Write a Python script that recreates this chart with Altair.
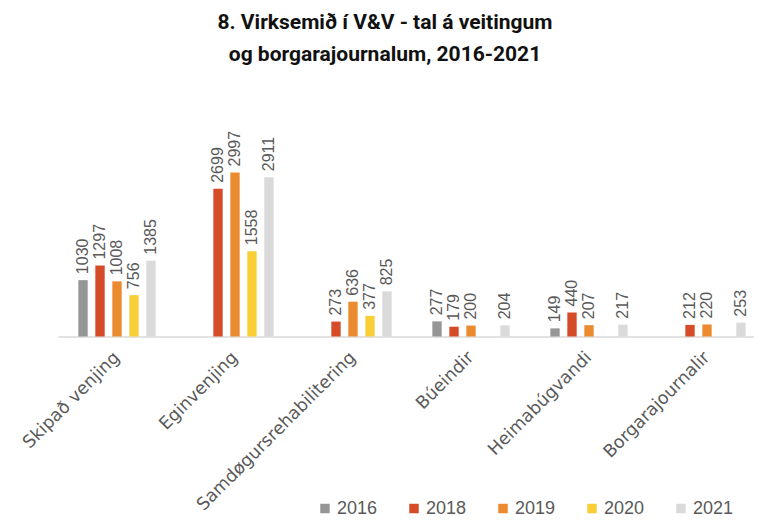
import altair as alt
import pandas as pd

categories = ["Skipað venjing", "Eginvenjing", "Samdøgursrehabilitering",
              "Búeindir", "Heimabúgvandi", "Borgarajournalir"]
years = ["2016", "2018", "2019", "2020", "2021"]
v2016 = [1030, None, None, 277, 149, None]
v2018 = [1297, 2699, 273, 179, 440, 212]
v2019 = [1008, 2997, 636, 200, 207, 220]
v2020 = [756, 1558, 377, None, None, None]
v2021 = [1385, 2911, 825, 204, 217, 253]
colors = ["#969696", "#D54B27", "#EC8A30", "#F9CF37", "#DADADA"]

series = dict(zip(years, [v2016, v2018, v2019, v2020, v2021]))
rows = []
for y in years:
    for c, v in zip(categories, series[y]):
        if v is not None:
            rows.append({"category": c, "year": y, "value": v})
df = pd.DataFrame(rows)

base = alt.Chart(df).encode(
    x=alt.X("category:N", sort=categories,
            scale=alt.Scale(domain=categories, range=[0, 708],
                            paddingInner=0.28, paddingOuter=0.14),
            axis=alt.Axis(title=None, labelAngle=-45, labelAlign="right",
                          labelBaseline="middle", labelPadding=18,
                          labelLimit=400,
                          ticks=False, domainColor="#D9D9D9", domainWidth=1.5,
                          labelFont="DejaVu Sans", labelFontSize=17.5,
                          labelColor="#595959")),
    xOffset=alt.XOffset("year:N", scale=alt.Scale(domain=years,
                                                   paddingInner=0.45,
                                                   paddingOuter=0.225)),
    y=alt.Y("value:Q", scale=alt.Scale(domain=[0, 3600]), axis=None),
)

bars = base.mark_bar().encode(
    color=alt.Color("year:N", scale=alt.Scale(domain=years, range=colors),
                    legend=alt.Legend(title=None, orient="none", legendX=258,
                                      legendY=360, direction="horizontal",
                                      symbolType="square", symbolSize=90,
                                      symbolStrokeWidth=0,
                                      labelFont="Liberation Sans",
                                      labelFontSize=18, labelColor="#595959",
                                      columnPadding=27, labelOffset=3))
)

labels = base.mark_text(angle=270, align="left", baseline="middle", dx=6,
                        font="Liberation Sans", fontSize=16,
                        color="#595959").encode(text="value:Q")

chart = (bars + labels).properties(
    width=696, height=197,
    padding={"left": 50, "top": 131.5, "right": 0, "bottom": 181.5},
    autosize=alt.AutoSizeParams(type="none"),
    title=alt.TitleParams(
        text=["8. Virksemið í V&V - tal á veitingum",
              "og borgarajournalum, 2016-2021"],
        font="Roboto", fontSize=21, fontWeight="bold", color="#111111",
        anchor="middle", dx=-21, offset=66, lineHeight=32),
).configure_view(stroke=None)

chart.save("out.html", embed_options={"renderer": "svg", "actions": False})
